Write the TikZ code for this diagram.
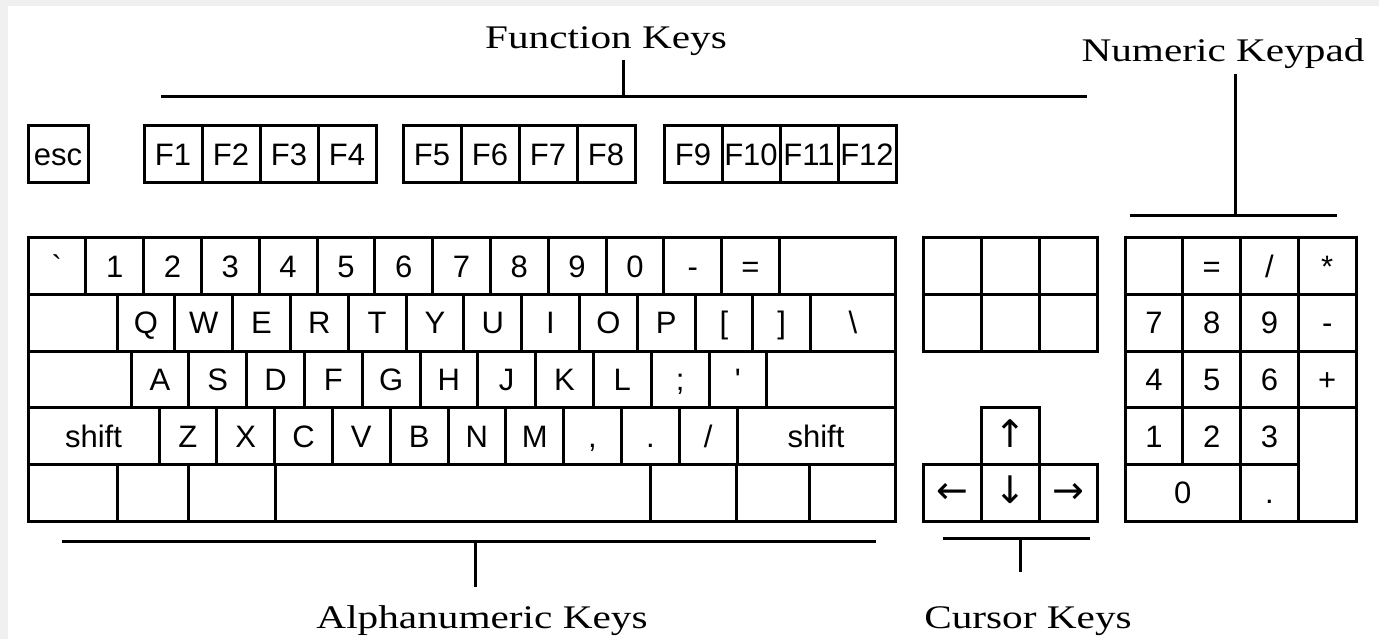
\documentclass[tikz,border=0pt]{standalone}
\usepackage{fontspec}
\setmainfont{Liberation Serif}
\newfontfamily\kf{Liberation Sans}
\newfontfamily\af{DejaVu Sans}
\newfontfamily\lf[FakeStretch=1.25]{Liberation Serif}

\begin{document}
\begin{tikzpicture}[x=1pt,y=-1pt,
    kbkey/.style={draw,line width=3pt,inner sep=0pt,minimum width=57.8pt,minimum height=56.6pt,
      text height=22pt,text depth=0pt,font=\kf\fontsize{31}{36}\selectfont},
    fkey/.style={kbkey,minimum width=58pt,minimum height=57pt},
    arrowkey/.style={kbkey,minimum width=58pt,font=\af\fontsize{38}{40}\selectfont},
    lbl/.style={anchor=base,inner sep=0pt,font=\lf\fontsize{33}{40}\selectfont},
    brace/.style={line width=3pt}]
  \useasboundingbox (0,0) rectangle (1379,639);
  \fill[gray!12] (0,0) rectangle (1379,639);
  \fill[white] (8,6) rectangle (1379,639);

  \node[fkey,minimum width=60pt] (esc) at (58,154.5) {esc};
  \foreach \t/\x in {F1/173,F2/231,F3/289,F4/347,F5/432,F6/490,F7/548,F8/606,
      F9/693,F10/751,F11/809,F12/867}
    \node[fkey] (\t) at (\x,154.5) {\t};

  \foreach \t [count=\i from 0] in {\textasciigrave,1,2,3,4,5,6,7,8,9,0,-,=}
    \node[kbkey] (a\i) at ({56.9+57.8*\i},266.3) {\t};
  \node[kbkey,minimum width=115.6pt] (bksp) at (837.2,266.3) {};

  \node[kbkey,minimum width=89pt] (tab) at (72.5,322.9) {};
  \foreach \t [count=\i from 0] in {Q,W,E,R,T,Y,U,I,O,P,{[},{]}}
    \node[kbkey] (q\i) at ({145.9+57.8*\i},322.9) {\t};
  \node[kbkey,minimum width=84.4pt] (bsl) at (852.8,322.9) {\textbackslash};

  \node[kbkey,minimum width=103pt] (caps) at (79.5,379.5) {};
  \foreach \t [count=\i from 0] in {A,S,D,F,G,H,J,K,L,;,\textquotesingle}
    \node[kbkey] (s\i) at ({159.9+57.8*\i},379.5) {\t};
  \node[kbkey,minimum width=128.2pt] (enter) at (830.9,379.5) {};

  \node[kbkey,minimum width=131pt] (lshift) at (93.5,436.1) {shift};
  \foreach \t [count=\i from 0] in {Z,X,C,V,B,N,M,{,},.,/}
    \node[kbkey] (z\i) at ({187.9+57.8*\i},436.1) {\t};
  \node[kbkey,minimum width=158pt] (rshift) at (816,436.1) {shift};

  \foreach \c/\w [count=\i] in {72.5/89,152.5/71,231.5/87,462.5/375,693/86,772.5/73,852/86}
    \node[kbkey,minimum width=\w pt] (m\i) at (\c,492.7) {};

  \foreach \x [count=\i] in {952,1010,1068}{
    \node[kbkey,minimum width=58pt] (ins\i) at (\x,266.3) {};
    \node[kbkey,minimum width=58pt] (del\i) at (\x,322.9) {};
  }
  \node[arrowkey] (up) at (1010,436.1) {↑};
  \node[arrowkey] (left) at (952,492.7) {←};
  \node[arrowkey] (down) at (1010,492.7) {↓};
  \node[arrowkey] (right) at (1068,492.7) {→};

  \foreach \t [count=\i from 0] in {{},=,/,*,7,8,9,-,4,5,6,+,1,2,3}{
    \pgfmathsetmacro\cx{1153.9+57.75*mod(\i,4)}
    \pgfmathsetmacro\cy{266.3+56.6*floor(\i/4)}
    \node[kbkey,minimum width=57.75pt] (n\i) at (\cx,\cy) {\t};
  }
  \node[kbkey,minimum width=57.75pt,minimum height=113.2pt] (nenter) at (1327.15,464.4) {};
  \node[kbkey,minimum width=115.5pt] (n0) at (1182.75,492.7) {0};
  \node[kbkey,minimum width=57.75pt] (ndot) at (1269.4,492.7) {.};

  \node[lbl] (fnlbl) at (606,49) {Function Keys};
  \node[lbl] (numlbl) at (1223,62) {Numeric Keypad};
  \node[lbl] (alphalbl) at (482,628) {Alphanumeric Keys};
  \node[lbl] (curlbl) at (1028,628) {Cursor Keys};

  \coordinate (fnL) at (161,97);
  \coordinate (fnR) at (1087,97);
  \coordinate (fnT) at (623,60);
  \draw[brace] (fnL) -- (fnR) (fnT) -- (fnT |- fnL);
  \coordinate (numL) at (1130,216);
  \coordinate (numR) at (1337,216);
  \coordinate (numT) at (1235,74);
  \draw[brace] (numL) -- (numR) (numT) -- (numT |- numL);
  \coordinate (alphaL) at (62,541);
  \coordinate (alphaR) at (876,541);
  \coordinate (alphaB) at (475,587);
  \draw[brace] (alphaL) -- (alphaR) (alphaB) -- (alphaB |- alphaL);
  \coordinate (curL) at (943,538);
  \coordinate (curR) at (1090,538);
  \coordinate (curB) at (1020,572);
  \draw[brace] (curL) -- (curR) (curB) -- (curB |- curL);
\end{tikzpicture}
\end{document}
